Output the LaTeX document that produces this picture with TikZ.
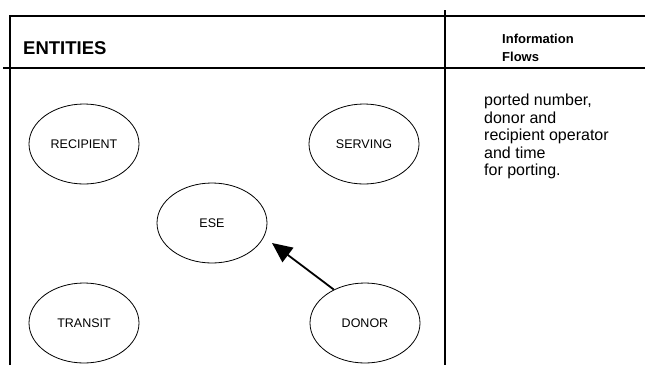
\documentclass[tikz,border=0pt]{standalone}
\usepackage{fontspec}
\setmainfont{Liberation Sans}
\usetikzlibrary{arrows.meta,shapes.geometric}
\begin{document}
\begin{tikzpicture}[x=1pt,y=-1pt,
  rule/.style={line width=1.2pt},
  colrule/.style={line width=1.8pt},
  entity/.style={draw,ellipse,line width=0.8pt,minimum width=110pt,minimum height=80pt,inner sep=0pt,font=\fontsize{12.5}{14}\selectfont},
  flow/.style={line width=1.8pt,-{Triangle[length=20pt,width=18pt]}}]
\useasboundingbox (0,0) rectangle (645,365);
% table frame
\draw[rule] (10,365) -- (10,16) -- (645,16);
\draw[rule] (3,68) -- (645,68);
\draw[colrule] (445,10) -- (445,365);
% headings
\node[anchor=west,font=\bfseries\fontsize{18.5}{20}\selectfont,inner sep=0pt] (head) at (23,48) {ENTITIES};
\node[anchor=north west,align=left,font=\bfseries\fontsize{13}{18}\selectfont,inner sep=0pt] (flowhead) at (502,34) {Information\\Flows};
% flow description
\node[anchor=north west,align=left,font=\fontsize{16}{17.5}\selectfont,inner sep=0pt] (flowtext) at (484,94) {ported number,\\donor and\\recipient operator\\and time\\for porting.};
% entities
\node[entity] (recipient) at (84,144) {RECIPIENT};
\node[entity] (serving) at (364,144) {SERVING};
\node[entity] (ese) at (212,223) {ESE};
\node[entity] (transit) at (84,323) {TRANSIT};
\node[entity] (donor) at (365,323) {DONOR};
% information flow from the donor towards the ESE
\coordinate (esein) at (272,243);
\draw[flow] (donor.133) -- (esein);
\end{tikzpicture}
\end{document}
